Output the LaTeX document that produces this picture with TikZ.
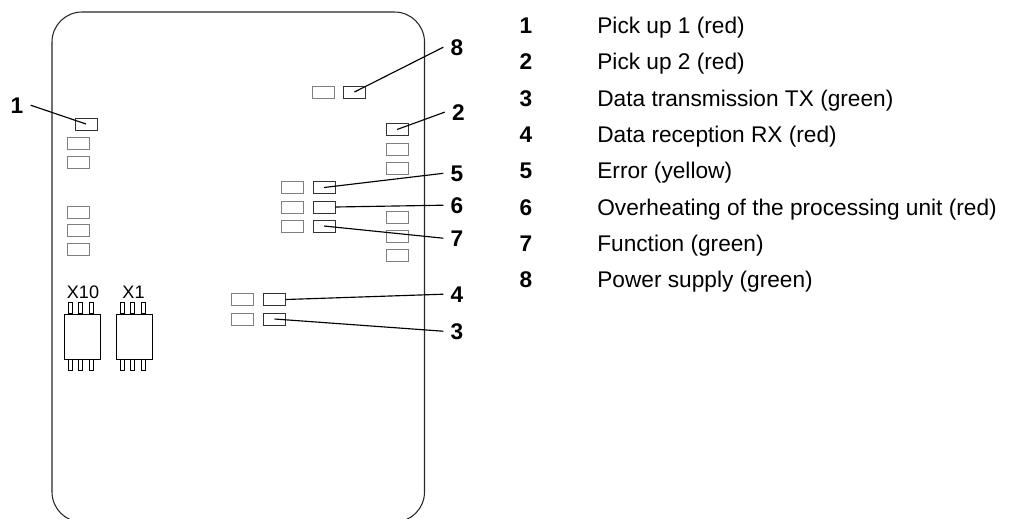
\documentclass[tikz,border=0pt]{standalone}
\usepackage{fontspec}
\setmainfont{Liberation Sans}

\begin{document}
\begin{tikzpicture}[x=0.02cm,y=-0.02cm,
  led/.style={draw=black!50,line width=0.5pt,minimum width=0.44cm,minimum height=0.24cm,inner sep=0pt},
  ledon/.style={led,draw=black!80},
  chip/.style={draw,line width=0.5pt,minimum width=0.72cm,minimum height=0.9cm,inner sep=0pt},
  callout/.style={font=\fontsize{12.9}{15}\selectfont\bfseries,inner sep=4pt,anchor=base},
  leader/.style={line width=0.65pt}]

  \useasboundingbox (0,0) rectangle (1028,518);

  % Board
  \draw[line width=0.6pt,black!85,rounded corners=0.6cm] (52,12) rectangle (424.5,522);

  % LEDs, left column
  \node[ledon] (l1) at (86,124) {};
  \foreach \y [count=\i] in {143,162,212,230.5,249.5}
    \node[led] (a\i) at (78.5,\y) {};

  % LEDs, top and right column
  \node[led] (p1) at (323,92) {};
  \node[ledon] (l8) at (354.5,92) {};
  \node[ledon] (l2) at (397,129.5) {};
  \foreach \y [count=\i] in {149,168,217,236,255.5}
    \node[led] (b\i) at (397,\y) {};

  % LEDs, middle group
  \foreach \y [count=\i] in {187.5,207,226}
    \node[led] (m\i) at (292.5,\y) {};
  \node[ledon] (l5) at (324,187.5) {};
  \node[ledon] (l6) at (324,207) {};
  \node[ledon] (l7) at (324,226) {};

  % LEDs, data group
  \node[led] (d1) at (242.5,299.5) {};
  \node[led] (d2) at (242.5,319) {};
  \node[ledon] (l4) at (274.5,299.5) {};
  \node[ledon] (l3) at (274.5,319) {};

  % Switches
  \node[chip] (x10) at (82,336.5) {};
  \node[chip] (x1) at (134.5,336.5) {};
  \foreach \c in {x10,x1}
    \foreach \d in {-12,-2,9} {
      \draw[line width=0.5pt] ([shift={(\d-2,0)}]\c.north) rectangle ++(4,-11);
      \draw[line width=0.5pt] ([shift={(\d-2,0)}]\c.south) rectangle ++(4,11);
    }
  \node[font=\fontsize{10.3}{12}\selectfont,anchor=base] (lx10) at (83,298) {X10};
  \node[font=\fontsize{10.3}{12}\selectfont,anchor=base] (lx1) at (133.5,298) {X1};

  % Callouts
  \node[callout] (n1) at (17,113) {1};
  \node[callout] (n8) at (457,55) {8};
  \node[callout] (n2) at (458.5,120) {2};
  \node[callout] (n5) at (457,181) {5};
  \node[callout] (n6) at (457,213) {6};
  \node[callout] (n7) at (457,246) {7};
  \node[callout] (n4) at (457,302) {4};
  \node[callout] (n3) at (457,339) {3};
  \draw[leader] (n1.east) -- (l1.center);
  \foreach \i in {2,3,5,7,8}
    \draw[leader] (n\i.west) -- (l\i.center);
  \draw[leader] (n6.west) -- (l6.east);
  \draw[leader] (n4.west) -- (l4.east);

  % Legend
  \foreach \txt [count=\i] in {Pick up 1 (red),Pick up 2 (red),Data transmission TX (green),
      Data reception RX (red),Error (yellow),Overheating of the processing unit (red),
      Function (green),Power supply (green)} {
    \node[callout] (k\i) at (526,{33.5+36.3*(\i-1)}) {\i};
    \node[anchor=base west,inner sep=0pt,font=\fontsize{12.9}{15}\selectfont] (t\i) at (597,{33.5+36.3*(\i-1)}) {\txt};
  }

\end{tikzpicture}
\end{document}
